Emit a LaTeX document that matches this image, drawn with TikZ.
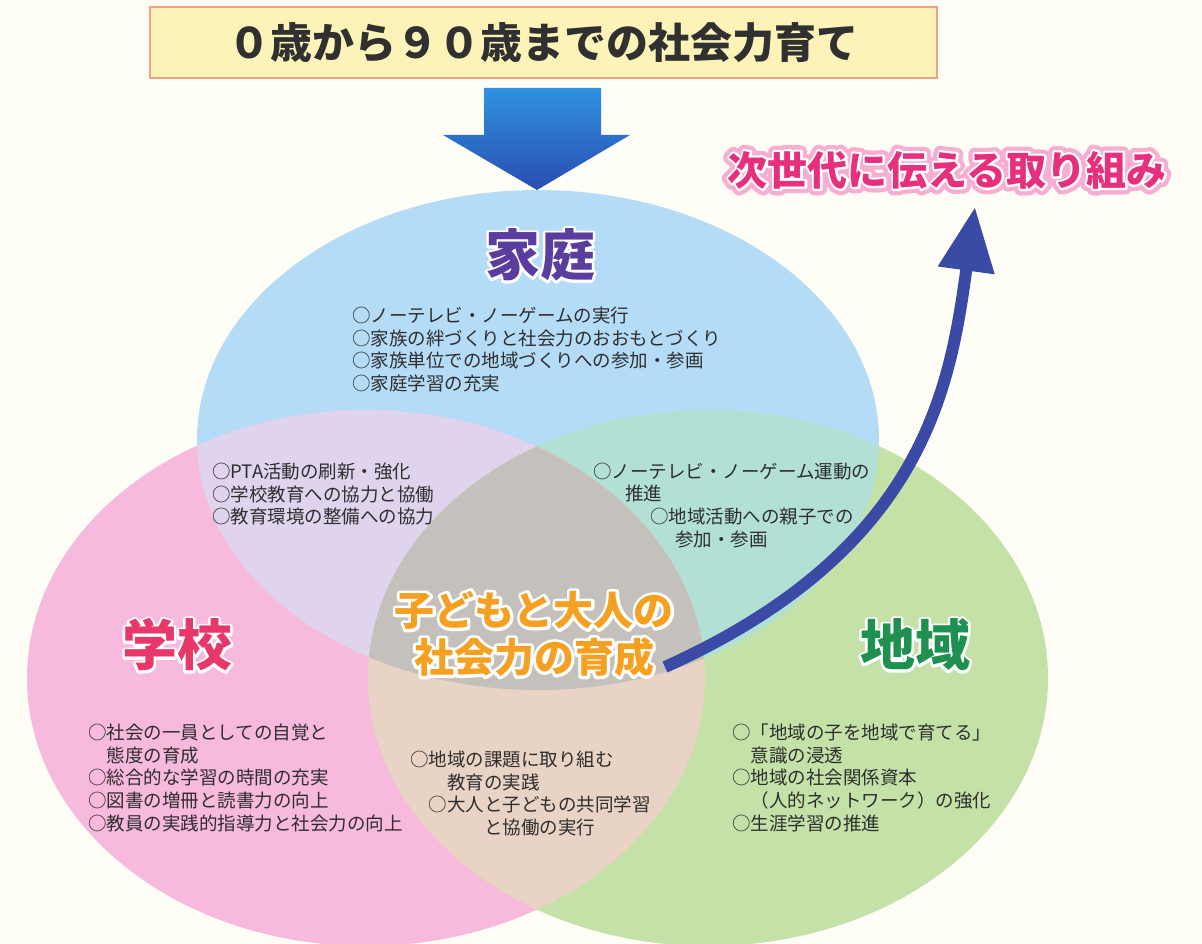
\documentclass[tikz,border=0pt]{standalone}
\usepackage{fontspec}
\setmainfont{Noto Sans CJK JP}
\usetikzlibrary{arrows.meta}
\definecolor{bg}{HTML}{FEFDF6}
\definecolor{tfill}{HTML}{FCF3B8}
\definecolor{tborder}{HTML}{F0A184}
\definecolor{ttext}{HTML}{303030}
\definecolor{txt}{HTML}{2E2E2E}
\definecolor{cblue}{HTML}{B5DCF7}
\definecolor{cpink}{HTML}{F7B9DC}
\definecolor{cgreen}{HTML}{C4E2A8}
\definecolor{cbp}{HTML}{DFD3EE}
\definecolor{cbg}{HTML}{B3E0D5}
\definecolor{cpg}{HTML}{E9D3C4}
\definecolor{call}{HTML}{C4C0BC}
\definecolor{arrowblue}{HTML}{3B4AA5}
\definecolor{dtop}{HTML}{2F92E2}
\definecolor{dbot}{HTML}{2A4DB0}
\definecolor{cpurple}{HTML}{5A3D9E}
\definecolor{cred}{HTML}{E8386A}
\definecolor{cgreenT}{HTML}{1E9050}
\definecolor{corange}{HTML}{F5A020}
\definecolor{cmagenta}{HTML}{E62F7D}
\definecolor{lpink}{HTML}{F7AED0}
% halo: stroked copy of the text under the filled text
\newcommand{\halo}[3]{\makebox[0pt][l]{\color{#1}\special{pdf:literal direct 2 Tr #2 w 1 j 1 J}#3\special{pdf:literal direct 0 Tr}}}
\begin{document}
\begin{tikzpicture}[x=1pt,y=-1pt,
  body/.style={font=\fontsize{18.5}{22.8}\selectfont, text=txt, align=left, anchor=north west, inner sep=0pt},
  biglabel/.style={font=\fontsize{55}{60}\selectfont\bfseries, inner sep=0pt},
  midlabel/.style={font=\fontsize{40}{47}\selectfont\bfseries, inner sep=0pt, align=center},
  bluepath/.style={insert path={(538,440) ellipse [x radius=341, y radius=250]}},
  pinkpath/.style={insert path={(366,678) ellipse [x radius=339, y radius=268]}},
  greenpath/.style={insert path={(708,678) ellipse [x radius=340, y radius=268]}},
]
\useasboundingbox (0,0) rectangle (1202,944);
\clip (0,0) rectangle (1202,944);
\fill[bg] (0,0) rectangle (1202,944);

% circles
\fill[cblue, bluepath];
\fill[cpink, pinkpath];
\fill[cgreen, greenpath];
\begin{scope}\clip[bluepath]; \fill[cbp, pinkpath]; \end{scope}
\begin{scope}\clip[bluepath]; \fill[cbg, greenpath]; \end{scope}
\begin{scope}\clip[pinkpath]; \fill[cpg, greenpath]; \end{scope}
\begin{scope}\clip[bluepath]; \clip[pinkpath]; \fill[call, greenpath]; \end{scope}

% title
\node[draw=tborder, fill=tfill, line width=2.2pt, minimum width=787pt, minimum height=71pt, inner sep=0pt]
  (title) at (543.5,42.5) {\fontsize{42}{46}\selectfont\bfseries\color{ttext}０歳から９０歳までの社会力育て};

% down arrow
\coordinate (dn1) at (484,88);
\coordinate (dn2) at (601,88);
\coordinate (dn3) at (601,135);
\coordinate (dn4) at (630,135);
\coordinate (dntip) at (537,190);
\coordinate (dn6) at (443,135);
\coordinate (dn7) at (484,135);
\shade[top color=dtop, bottom color=dbot] (dn1) -- (dn2) -- (dn3) -- (dn4) -- (dntip) -- (dn6) -- (dn7) -- cycle;

% labels
\node[biglabel, text=cpurple] (katei) at (540,255) {\halo{white}{5}{家庭}家庭};
\node[biglabel, text=cred] (gakko) at (177,645) {\halo{white}{5}{学校}学校};
\node[biglabel, text=cgreenT] (chiiki) at (915,645) {\halo{white}{5}{地域}地域};

% next generation
\node[midlabel, text=cmagenta] (next) at (947,170) {\halo{lpink}{13}{次世代に伝える取り組み}\halo{white}{4.5}{次世代に伝える取り組み}次世代に伝える取り組み};

% body texts
\node[body] (family) at (352,306.5) {○ノーテレビ・ノーゲームの実行\\○家族の絆づくりと社会力のおおもとづくり\\○家族単位での地域づくりへの参加・参画\\○家庭学習の充実};
\node[body] (pta) at (212,462.5) {○PTA活動の刷新・強化\\○学校教育への協力と協働\\○教育環境の整備への協力};
\node[body] (kc) at (593,462.5) {○ノーテレビ・ノーゲーム運動の\\\hspace*{32pt}推進\\\hspace*{57pt}○地域活動への親子での\\\hspace*{82pt}参加・参画};
\node[body] (school) at (88,723.5) {○社会の一員としての自覚と\\\hspace*{1em}態度の育成\\○総合的な学習の時間の充実\\○図書の増冊と読書力の向上\\○教員の実践的指導力と社会力の向上};
\node[body] (sc) at (410,750.5) {○地域の課題に取り組む\\\hspace*{2em}教育の実践\\\hspace*{1em}○大人と子どもの共同学習\\\hspace*{4em}と協働の実行};
\node[body] (region) at (732,723.5) {○「地域の子を地域で育てる」\\\hspace*{1em}意識の浸透\\○地域の社会関係資本\\\hspace*{1em}（人的ネットワーク）の強化\\○生涯学習の推進};

% core
\node[midlabel, text=corange] (core) at (534,634) {\halo{white}{6}{子どもと大人の}子どもと大人の\\\halo{white}{6}{社会力の育成}社会力の育成};

% curved arrow
\coordinate (arrS) at (665,667);
\coordinate (arrE) at (975,207);
\draw[arrowblue, line width=12pt, -{Triangle[width=54pt,length=64pt]}] (arrS) .. controls (925,550) and (950,387) .. (arrE);
\end{tikzpicture}
\end{document}
